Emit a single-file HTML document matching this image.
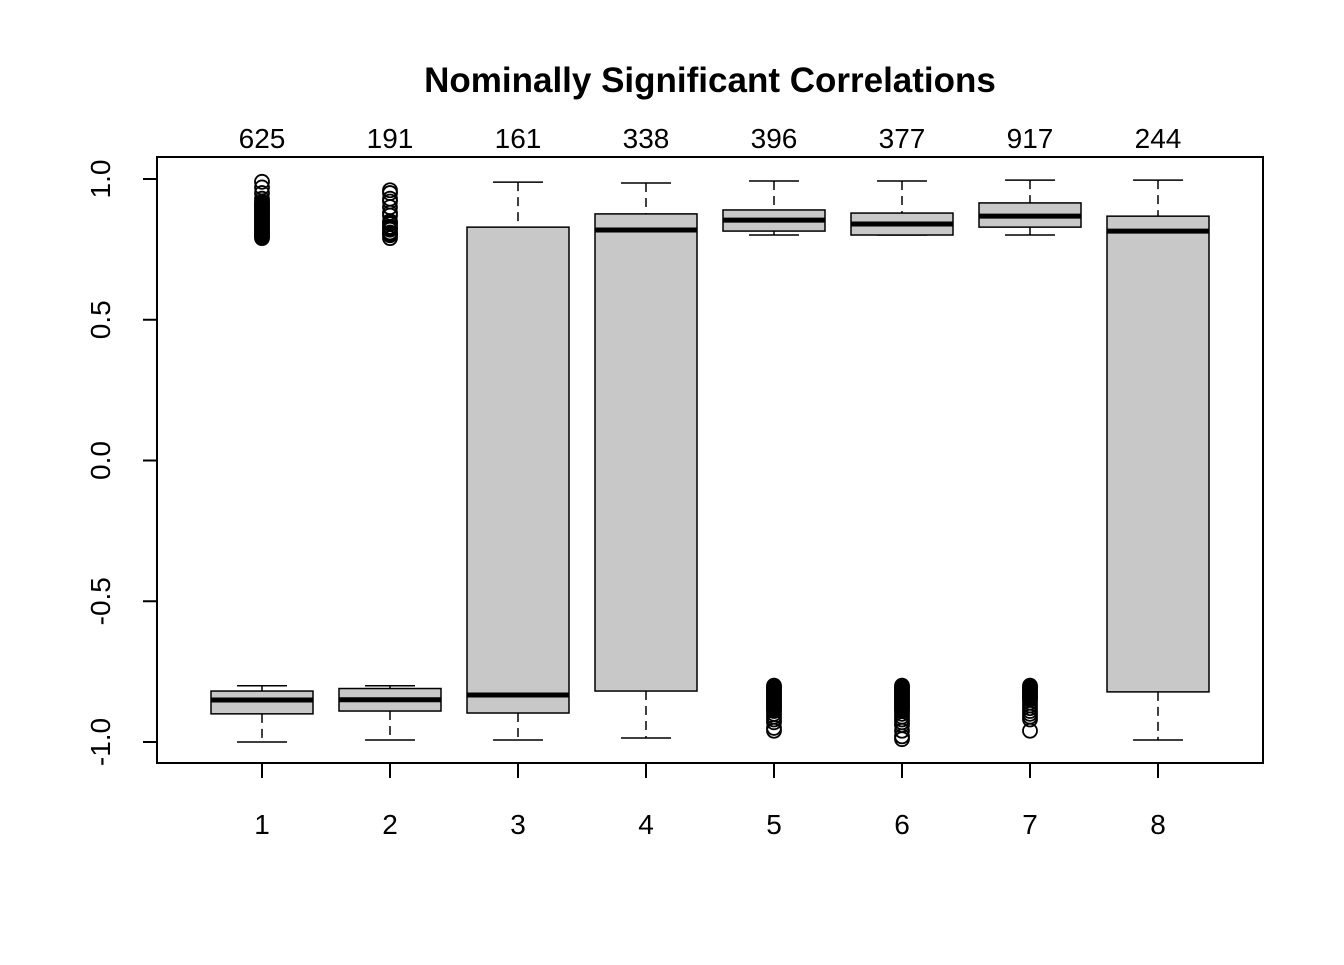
<!DOCTYPE html>
<html><head><meta charset="utf-8"><style>
body{margin:0;background:#fff}
text{font-family:"Liberation Sans",Arial,sans-serif;fill:#000}
</style></head><body>
<svg id="chart" width="1344" height="960" xmlns="http://www.w3.org/2000/svg">
<rect width="1344" height="960" fill="#fff"/>
<text x="710" y="92" text-anchor="middle" font-size="35" font-weight="bold">Nominally Significant Correlations</text>
<rect x="157" y="157" width="1106" height="606" fill="none" stroke="#000" stroke-width="2"/>
<g id="marks"></g>
</svg>
<script>
const categories=["1","2","3","4","5","6","7","8"];
const counts=[625,191,161,338,396,377,917,244];
const whiskerHigh=[-0.80,-0.80,0.989,0.986,0.993,0.993,0.996,0.996];
const q3=[-0.819,-0.81,0.829,0.876,0.890,0.879,0.915,0.868];
const medians=[-0.851,-0.85,-0.833,0.819,0.854,0.840,0.868,0.815];
const q1=[-0.900,-0.89,-0.897,-0.819,0.815,0.801,0.829,-0.822];
const whiskerLow=[-1.0,-0.993,-0.993,-0.986,0.801,0.801,0.801,-0.993];
const outliers=[
 [0.79,0.795,0.80,0.805,0.81,0.815,0.82,0.825,0.83,0.835,0.84,0.845,0.85,0.855,0.86,0.865,0.87,0.875,0.88,0.885,0.89,0.895,0.90,0.905,0.91,0.915,0.92,0.93,0.95,0.97,0.99],
 [0.79,0.80,0.805,0.81,0.82,0.825,0.83,0.84,0.845,0.85,0.87,0.88,0.90,0.92,0.93,0.95,0.96],
 [],[],
 [-0.80,-0.805,-0.81,-0.815,-0.82,-0.825,-0.83,-0.835,-0.84,-0.845,-0.85,-0.855,-0.86,-0.865,-0.87,-0.875,-0.88,-0.885,-0.89,-0.90,-0.91,-0.92,-0.93,-0.95,-0.96],
 [-0.80,-0.805,-0.81,-0.815,-0.82,-0.825,-0.83,-0.835,-0.84,-0.845,-0.85,-0.855,-0.86,-0.865,-0.87,-0.875,-0.88,-0.885,-0.89,-0.90,-0.91,-0.92,-0.93,-0.94,-0.96,-0.98,-0.99],
 [-0.80,-0.805,-0.81,-0.815,-0.82,-0.825,-0.83,-0.835,-0.84,-0.845,-0.85,-0.86,-0.87,-0.88,-0.89,-0.90,-0.91,-0.92,-0.96]
 ,[]];
const yTicks=[-1.0,-0.5,0.0,0.5,1.0];
const yTickLabels=["-1.0","-0.5","0.0","0.5","1.0"];
const NS="http://www.w3.org/2000/svg";
const g=document.getElementById('marks');
const y=v=>460.5-v*281.5;
const x=i=>262+i*128;
function mk(tag,attrs,parent){const e=document.createElementNS(NS,tag);for(const k in attrs)e.setAttribute(k,attrs[k]);(parent||g).appendChild(e);return e;}
yTicks.forEach((t,i)=>{
 const l=mk('line',{x1:157,x2:143,y1:y(t),y2:y(t),stroke:'#000','stroke-width':2});
 
 
 const tx=mk('text',{x:110,y:y(t),'font-size':28,'text-anchor':'middle',transform:`rotate(-90 110 ${y(t)})`});
 tx.textContent=yTickLabels[i];
 
 
});
categories.forEach((c,i)=>{
 const cx=x(i),hw=51;
 const tk=mk('line',{x1:cx,x2:cx,y1:763,y2:778,stroke:'#000','stroke-width':2});
 
 
 const lb=mk('text',{x:cx,y:834,'font-size':28,'text-anchor':'middle'});lb.textContent=c;
 
 
 const ct=mk('text',{x:cx,y:148,'font-size':28,'text-anchor':'middle'});ct.textContent=counts[i];
 
 
 const w1=mk('line',{x1:cx,x2:cx,y1:y(whiskerHigh[i]),y2:y(q3[i]),stroke:'#000','stroke-width':1.5,'stroke-dasharray':'9,6'});
 
 
 const w2=mk('line',{x1:cx,x2:cx,y1:y(q1[i]),y2:y(whiskerLow[i]),stroke:'#000','stroke-width':1.5,'stroke-dasharray':'9,6'});
 
 
 const c1=mk('line',{x1:cx-25,x2:cx+25,y1:y(whiskerHigh[i]),y2:y(whiskerHigh[i]),stroke:'#000','stroke-width':1.5});
 
 
 const c2=mk('line',{x1:cx-25,x2:cx+25,y1:y(whiskerLow[i]),y2:y(whiskerLow[i]),stroke:'#000','stroke-width':1.5});
 
 
 const b=mk('rect',{x:cx-hw,y:y(q3[i]),width:2*hw,height:y(q1[i])-y(q3[i]),fill:'#c8c8c8',stroke:'#000','stroke-width':1.5});
 
 
 const m=mk('line',{x1:cx-hw,x2:cx+hw,y1:y(medians[i]),y2:y(medians[i]),stroke:'#000','stroke-width':5});
 
 
 outliers[i].forEach(v=>{
  const o=mk('circle',{cx:cx,cy:y(v),r:7,fill:'none',stroke:'#000','stroke-width':1.8});
  
  
 });
});
</script>
</body></html>
